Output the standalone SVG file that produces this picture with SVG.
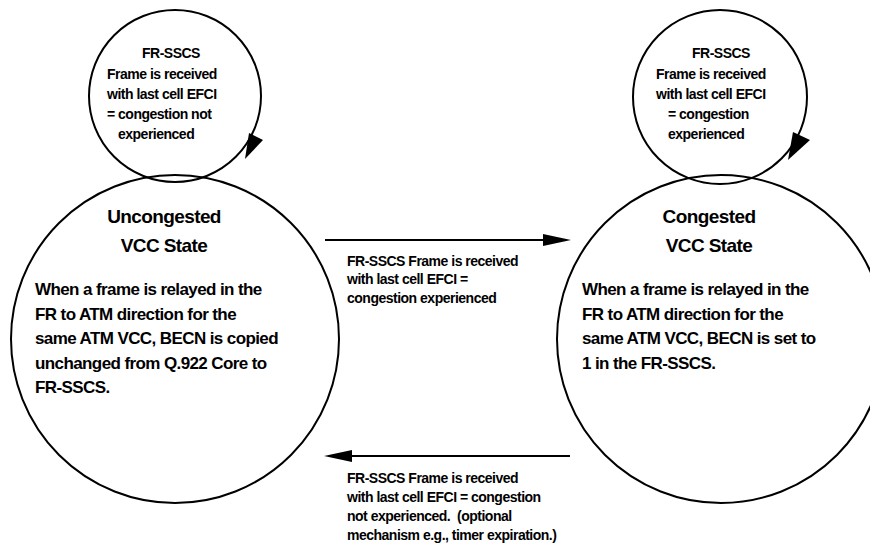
<svg xmlns="http://www.w3.org/2000/svg" width="870" height="551" viewBox="0 0 870 551">
<style>
.c{fill:none;stroke:#000;stroke-width:2}
.l{stroke:#000;stroke-width:2;fill:none}
.h{fill:#000;stroke:none}
text{font-family:"Liberation Sans",Arial,sans-serif;font-weight:bold;fill:#000}
.t{font-size:19px;letter-spacing:-0.6px;text-anchor:middle}
.b{font-size:17px;letter-spacing:-0.6px}
.s{font-size:14px;letter-spacing:-0.5px}
.p{white-space:pre}
</style>
<rect width="870" height="551" fill="#fff"/>
<g id="uncongested">
<circle class="c" cx="175" cy="339" r="164"/>
<text class="t" x="164" y="223">Uncongested</text>
<text class="t" x="164" y="252">VCC State</text>
<text class="b" x="35" y="295">When a frame is relayed in the</text>
<text class="b" x="35" y="319.5">FR to ATM direction for the</text>
<text class="b" x="35" y="344">same ATM VCC, BECN is copied</text>
<text class="b" x="35" y="369">unchanged from Q.922 Core to</text>
<text class="b" x="35" y="393">FR-SSCS.</text>
</g>
<g id="congested">
<circle class="c" cx="721" cy="339" r="164"/>
<text class="t" x="709" y="223">Congested</text>
<text class="t" x="709" y="252">VCC State</text>
<text class="b" x="582" y="295">When a frame is relayed in the</text>
<text class="b" x="582" y="319.5">FR to ATM direction for the</text>
<text class="b" x="582" y="344">same ATM VCC, BECN is set to</text>
<text class="b" x="582" y="369">1 in the FR-SSCS.</text>
</g>
<g id="connectors">
<g id="self-uncongested">
<circle class="c" cx="175" cy="96" r="86"/>
<polygon class="h" points="245,159 249,133 263,140"/>
<text class="s" x="142" y="58">FR-SSCS</text>
<text class="s" x="107" y="79">Frame is received</text>
<text class="s" x="107" y="99">with last cell EFCI</text>
<text class="s" x="107" y="119">= congestion not</text>
<text class="s" x="118" y="139">experienced</text>
</g>
<g id="self-congested">
<circle class="c" cx="720" cy="97" r="87"/>
<polygon class="h" points="788,160 793,132 810,140"/>
<text class="s" x="692" y="58">FR-SSCS</text>
<text class="s" x="656" y="79">Frame is received</text>
<text class="s" x="656" y="99">with last cell EFCI</text>
<text class="s" x="668" y="119">= congestion</text>
<text class="s" x="668" y="139">experienced</text>
</g>
<g id="to-congested">
<line class="l" x1="325" y1="240" x2="546" y2="240"/>
<polygon class="h" points="571,240 543,234 543,246"/>
<text class="s" x="347" y="265.5">FR-SSCS Frame is received</text>
<text class="s" x="347" y="284">with last cell EFCI =</text>
<text class="s" x="347" y="302.5">congestion experienced</text>
</g>
<g id="to-uncongested">
<line class="l" x1="349" y1="456" x2="570" y2="456"/>
<polygon class="h" points="324,456 352,450 352,462"/>
<text class="s" x="347" y="483">FR-SSCS Frame is received</text>
<text class="s" x="347" y="502">with last cell EFCI = congestion</text>
<text class="s p" x="347" y="521" xml:space="preserve">not experienced.  (optional</text>
<text class="s" x="347" y="540">mechanism e.g., timer expiration.)</text>
</g>
</g>
</svg>
